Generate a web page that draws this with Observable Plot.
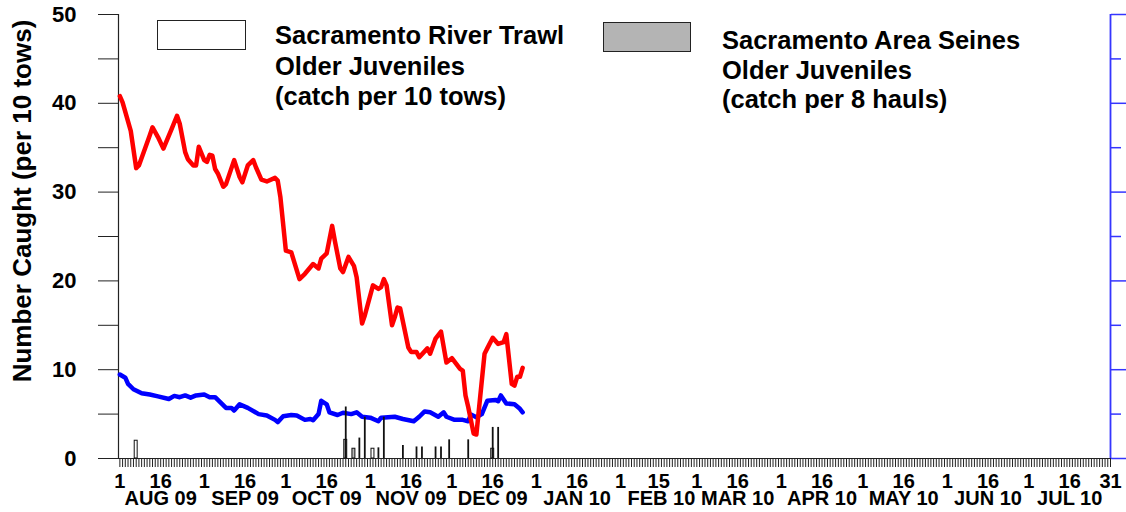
<!DOCTYPE html>
<html>
<head>
<meta charset="utf-8">
<script src="https://cdn.jsdelivr.net/npm/d3@7"></script>
<script src="https://cdn.jsdelivr.net/npm/@observablehq/plot@0.6"></script>
<style>
  html, body { margin: 0; padding: 0; background: white; }
  #wrap { position: relative; width: 1126px; height: 512px; font-family: "Liberation Sans", Arial, Helvetica, sans-serif; }
  .lgbox { position: absolute; box-sizing: border-box; border: 1px solid #222; }
  .lgtext { position: absolute; font-weight: bold; font-size: 25.5px; color: #000; white-space: nowrap; }
  #ytitle { position: absolute; left: 22px; top: 201px; transform: translate(-50%, -50%) rotate(-90deg); font-weight: bold; font-size: 26px; white-space: nowrap; color: #000; }
</style>
</head>
<body>
<div id="wrap">
  <div id="chart"></div>
  <div id="ytitle"></div>
  <div class="lgbox" style="left:157px;top:20px;width:89px;height:30px;background:#fff;"></div>
  <div class="lgtext" style="left:275px;top:20px;line-height:30.5px;">Sacramento River Trawl<br>Older Juveniles<br>(catch per 10 tows)</div>
  <div class="lgbox" style="left:603px;top:22px;width:88px;height:30px;background:#b4b4b4;"></div>
  <div class="lgtext" style="left:722px;top:26px;line-height:29.5px;">Sacramento Area Seines<br>Older Juveniles<br>(catch per 8 hauls)</div>
</div>
<script>
// ---- Red line series ----
const redDates = ["2009-08-01","2009-08-02","2009-08-05","2009-08-07","2009-08-08","2009-08-12","2009-08-13","2009-08-15","2009-08-17","2009-08-20","2009-08-22","2009-08-23","2009-08-25","2009-08-26","2009-08-28","2009-08-29","2009-08-30","2009-09-01","2009-09-02","2009-09-03","2009-09-04","2009-09-05","2009-09-06","2009-09-08","2009-09-09","2009-09-12","2009-09-14","2009-09-15","2009-09-17","2009-09-19","2009-09-20","2009-09-22","2009-09-24","2009-09-27","2009-09-28","2009-09-29","2009-10-01","2009-10-03","2009-10-06","2009-10-08","2009-10-11","2009-10-13","2009-10-14","2009-10-16","2009-10-18","2009-10-19","2009-10-21","2009-10-22","2009-10-24","2009-10-26","2009-10-27","2009-10-29","2009-10-30","2009-11-02","2009-11-04","2009-11-05","2009-11-06","2009-11-07","2009-11-09","2009-11-10","2009-11-11","2009-11-12","2009-11-15","2009-11-16","2009-11-18","2009-11-19","2009-11-22","2009-11-23","2009-11-25","2009-11-27","2009-11-29","2009-12-01","2009-12-04","2009-12-05","2009-12-06","2009-12-07","2009-12-09","2009-12-10","2009-12-13","2009-12-14","2009-12-16","2009-12-18","2009-12-20","2009-12-21","2009-12-23","2009-12-24","2009-12-25","2009-12-26","2009-12-27"];
const redValues = [40.8,40.1,36.9,32.7,33.0,36.4,37.3,36.2,34.9,37.1,38.6,37.7,34.5,33.7,33.0,33.0,35.1,33.6,33.4,34.2,34.1,32.6,32.1,30.6,30.9,33.6,31.7,31.1,33.0,33.6,32.8,31.4,31.2,31.6,31.3,29.4,23.4,23.2,20.2,20.8,21.9,21.4,22.5,23.1,26.2,24.5,21.4,21.0,22.7,21.7,20.4,15.2,16.1,19.5,19.1,19.3,20.2,19.5,15.0,15.9,17.0,16.9,12.5,12.0,12.0,11.4,12.4,11.8,13.5,14.3,10.8,11.3,10.1,9.9,7.1,5.8,2.8,2.7,11.8,12.4,13.6,12.9,13.1,14.0,8.4,8.2,9.2,9.2,10.2];

// ---- Blue line series ----
const blueDates = ["2009-08-01","2009-08-03","2009-08-04","2009-08-06","2009-08-09","2009-08-12","2009-08-15","2009-08-19","2009-08-21","2009-08-23","2009-08-25","2009-08-27","2009-08-29","2009-09-01","2009-09-03","2009-09-05","2009-09-09","2009-09-11","2009-09-12","2009-09-14","2009-09-17","2009-09-21","2009-09-24","2009-09-27","2009-09-28","2009-09-30","2009-10-03","2009-10-05","2009-10-08","2009-10-10","2009-10-11","2009-10-13","2009-10-14","2009-10-16","2009-10-17","2009-10-20","2009-10-22","2009-10-25","2009-10-27","2009-10-29","2009-11-01","2009-11-04","2009-11-05","2009-11-10","2009-11-13","2009-11-17","2009-11-19","2009-11-21","2009-11-23","2009-11-26","2009-11-28","2009-11-29","2009-12-02","2009-12-05","2009-12-07","2009-12-08","2009-12-10","2009-12-12","2009-12-14","2009-12-17","2009-12-18","2009-12-19","2009-12-21","2009-12-24","2009-12-26","2009-12-27"];
const blueValues = [9.46,9.1,8.4,7.8,7.35,7.2,7.0,6.7,7.05,6.9,7.1,6.85,7.1,7.2,6.9,6.9,5.7,5.7,5.4,6.1,5.7,5.0,4.85,4.35,4.1,4.75,4.9,4.85,4.35,4.45,4.3,5.0,6.5,6.1,5.2,4.9,5.15,5.0,5.2,4.7,4.6,4.2,4.6,4.7,4.45,4.2,4.7,5.3,5.2,4.7,5.2,4.7,4.35,4.35,4.2,4.95,4.65,5.0,6.5,6.6,6.45,7.1,6.2,6.1,5.6,5.2];

// ---- Bars ----
const trawlDates = ["2009-08-07","2009-11-02"];          // open (white) bars
const trawlValues = [2.0, 1.1];
const seineDates = ["2009-10-23","2009-10-26","2009-12-16"]; // gray bars
const seineValues = [2.1, 1.1, 1.1];
const narrowDates = ["2009-10-23","2009-10-28","2009-10-30","2009-11-04","2009-11-06","2009-11-13","2009-11-18","2009-11-20","2009-11-25","2009-11-27","2009-11-30","2009-12-07","2009-12-16","2009-12-18"];
const narrowValues = [5.8,2.3,4.65,1.2,4.65,1.46,1.3,1.3,1.3,1.3,2.1,2.1,3.5,3.5];

// ---- Axis ticks / labels ----
const yMajor = [0,10,20,30,40,50];
const yMinor = [5,15,25,35,45];
const dayLabelDates = ["2009-08-01","2009-08-16","2009-09-01","2009-09-16","2009-10-01","2009-10-16","2009-11-01","2009-11-16","2009-12-01","2009-12-16","2010-01-01","2010-01-16","2010-02-01","2010-02-15","2010-03-01","2010-03-16","2010-04-01","2010-04-16","2010-05-01","2010-05-16","2010-06-01","2010-06-16","2010-07-01","2010-07-16","2010-07-31"];
const dayLabels = ["1","16","1","16","1","16","1","16","1","16","1","16","1","15","1","16","1","16","1","16","1","16","1","16","31"];
const monthLabelDates = ["2009-08-16","2009-09-16","2009-10-16","2009-11-16","2009-12-16","2010-01-16","2010-02-16","2010-03-16","2010-04-16","2010-05-16","2010-06-16","2010-07-16"];
const monthLabels = ["AUG 09","SEP 09","OCT 09","NOV 09","DEC 09","JAN 10","FEB 10","MAR 10","APR 10","MAY 10","JUN 10","JUL 10"];
const yTitle = "Number Caught (per 10 tows)";

document.getElementById("ytitle").textContent = yTitle;

const parse = s => new Date(s + "T00:00:00Z");
const red = redDates.map((d, i) => ({date: parse(d), value: redValues[i]}));
const blue = blueDates.map((d, i) => ({date: parse(d), value: blueValues[i]}));
const trawl = trawlDates.map((d, i) => ({date: parse(d), value: trawlValues[i]}));
const seine = seineDates.map((d, i) => ({date: parse(d), value: seineValues[i]}));
const narrow = narrowDates.map((d, i) => ({date: parse(d), value: narrowValues[i]}));

const xStart = new Date("2009-07-31T12:00:00Z");
const xEnd = new Date("2010-07-31T00:00:00Z");
const dailyTicks = d3.utcDay.range(parse("2009-08-01"), parse("2010-08-01"));
const dayLabelMap = new Map(dayLabelDates.map((d, i) => [+parse(d), dayLabels[i]]));
const monthLabelMap = new Map(monthLabelDates.map((d, i) => [+parse(d), monthLabels[i]]));
const half = d => d3.utcHour.offset(d, -13);
const halfEnd = d => d3.utcHour.offset(d, 13);

const font = '"Liberation Sans", Arial, Helvetica, sans-serif';
const blueAxis = "#3535ff";

const chart = Plot.plot({
  width: 1126,
  height: 512,
  marginLeft: 118,
  marginRight: 16,
  marginTop: 14,
  marginBottom: 54,
  style: {fontFamily: font, fontWeight: "bold", background: "white", overflow: "visible"},
  x: {type: "utc", domain: [xStart, xEnd], axis: null},
  y: {domain: [0, 50], axis: null},
  marks: [
    // left axis
    Plot.axisY({ticks: yMajor, label: null, tickSize: 20, tickPadding: 22, fontSize: 22, fontWeight: "bold", stroke: "#222", fill: "black", tickFormat: d => String(d)}),
    Plot.axisY({ticks: yMinor, label: null, tickSize: 20, stroke: "#222", tickFormat: () => ""}),
    Plot.ruleX([xStart], {stroke: "#222", strokeWidth: 1.2}),
    // right axis
    Plot.axisY({anchor: "right", label: null, ticks: yMajor, tickSize: 16, stroke: blueAxis, strokeWidth: 1.5, tickFormat: () => ""}),
    Plot.axisY({anchor: "right", label: null, ticks: yMinor, tickSize: 10, stroke: blueAxis, strokeWidth: 1.5, tickFormat: () => ""}),
    Plot.ruleX([xEnd], {stroke: blueAxis, strokeWidth: 1.8}),
    // bottom axis: daily ticks, day labels, month labels
    Plot.axisX({ticks: dailyTicks, label: null, tickSize: 9, stroke: "#222", strokeWidth: 1, tickFormat: () => ""}),
    Plot.axisX({ticks: dayLabelDates.map(parse), label: null, tickSize: 0, tickPadding: 15, fontSize: 20, fontWeight: "bold", fill: "black", tickFormat: d => dayLabelMap.get(+d)}),
    Plot.axisX({ticks: monthLabelDates.map(parse), label: null, tickSize: 0, tickPadding: 32, fontSize: 20, fontWeight: "bold", fill: "black", tickFormat: d => monthLabelMap.get(+d)}),
    Plot.ruleY([0], {stroke: "#222", strokeWidth: 1.2}),
    // lines
    Plot.line(blue, {x: "date", y: "value", stroke: "#0000ff", strokeWidth: 4.5, strokeLinejoin: "round", strokeLinecap: "round"}),
    Plot.line(red, {x: "date", y: "value", stroke: "#ff0000", strokeWidth: 4.5, strokeLinejoin: "round", strokeLinecap: "round"}),
    // bars
    Plot.rect(trawl, {x1: d => half(d.date), x2: d => halfEnd(d.date), y1: 0, y2: "value", fill: "white", stroke: "#111", strokeWidth: 1}),
    Plot.rect(seine, {x1: d => half(d.date), x2: d => halfEnd(d.date), y1: 0, y2: "value", fill: "#b4b4b4", stroke: "#111", strokeWidth: 1}),
    Plot.ruleX(narrow, {x: "date", y1: 0, y2: "value", stroke: "#111", strokeWidth: 1.8})
  ]
});
document.getElementById("chart").appendChild(chart);
</script>
</body>
</html>
